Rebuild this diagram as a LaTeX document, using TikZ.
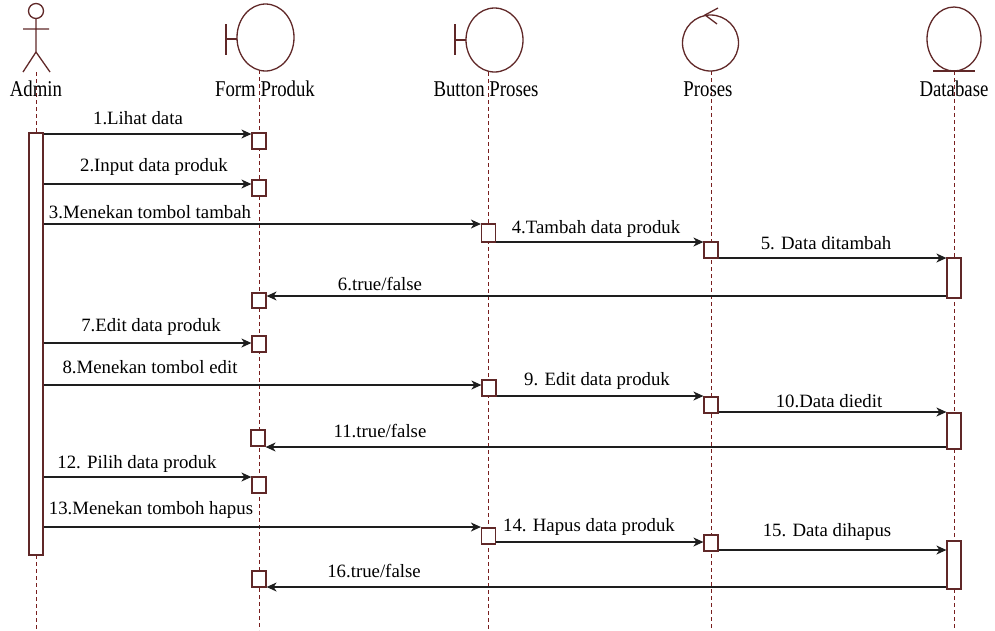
\documentclass[tikz,border=0pt]{standalone}
\usepackage{fontspec}
\setmainfont{Liberation Serif}
\usetikzlibrary{arrows.meta}
\definecolor{umlred}{RGB}{96,40,40}
\definecolor{lifered}{RGB}{120,30,30}
\definecolor{msgcol}{RGB}{30,30,30}
\tikzset{
  icon/.style={draw=umlred, line width=1.3pt},
  lifeline/.style={draw=lifered, line width=1pt, dash pattern=on 4pt off 3pt},
  actbox/.style={draw=umlred, fill=white, line width=1.2pt, rectangle, inner sep=0pt, minimum width=14pt},
  msg/.style={draw=msgcol, line width=1.3pt, -{Stealth[length=10pt,width=9pt,inset=3pt]}},
  lbl/.style={anchor=base, inner sep=0pt, font=\fontsize{18.8}{22}\selectfont},
  hdr/.style={anchor=base, inner sep=0pt, font=\fontsize{18.8}{22}\selectfont, yscale=1.2}
}
\begin{document}
\begin{tikzpicture}[x=1pt,y=-1pt]
\useasboundingbox (0,0) rectangle (995,630);
% lifelines
\coordinate (adminTop) at (36,72);
\coordinate (adminBot) at (36,630);
\coordinate (formTop) at (259,70);
\coordinate (formBot) at (259,630);
\coordinate (btnTop) at (488,72);
\coordinate (btnBot) at (488,630);
\coordinate (prsTop) at (711,71);
\coordinate (prsBot) at (711,630);
\coordinate (dbTop) at (954,71);
\coordinate (dbBot) at (954,630);
\draw[lifeline] (adminTop) -- (adminBot);
\draw[lifeline] (formTop) -- (formBot);
\draw[lifeline] (btnTop) -- (btnBot);
\draw[lifeline] (prsTop) -- (prsBot);
\draw[lifeline] (dbTop) -- (dbBot);
% actor
\draw[icon] (36,11) circle (7.5);
\draw[icon] (36,18.5) -- (36,52) (23,29) -- (49,29) (23,72) -- (36,52) -- (50,72);
% boundary Form
\draw[icon] (226,24) -- (226,55) (226,39) -- (237,39);
\draw[icon] (265.5,37.5) ellipse [x radius=28.5, y radius=33.5];
% boundary Button
\draw[icon] (455,24) -- (455,55) (455,40) -- (466,40);
\draw[icon] (494.5,40) ellipse [x radius=28.5, y radius=32];
% control
\draw[icon] (710.5,43) circle (28);
\draw[icon] (718,8) -- (705,15) -- (717,24);
% entity
\draw[icon] (954,39) ellipse [x radius=27, y radius=32];
\draw[icon] (933,71) -- (975,71);
% headers
\node[hdr] (hAdmin) at (36,96) {Admin};
\node[hdr] (hForm) at (265,96) {Form Produk};
\node[hdr] (hBtn) at (486,96) {Button Proses};
\node[hdr] (hPrs) at (708,96) {Proses};
\node[hdr] (hDb) at (954,96) {Database};
% activation boxes
\node[actbox, minimum height=422pt] (adminbar) at (36,344) {};
\node[actbox, minimum height=16pt] (b1) at (259,141) {};
\node[actbox, minimum height=16pt] (b2) at (259,188) {};
\node[actbox, minimum height=18pt] (b3) at (488.5,233) {};
\node[actbox, minimum height=16pt] (b4) at (711,250) {};
\node[actbox, minimum height=40pt] (b5) at (954,278) {};
\node[actbox, minimum height=15pt] (b6) at (259,300.5) {};
\node[actbox, minimum height=16pt] (b7) at (259,344) {};
\node[actbox, minimum height=16pt] (b8) at (489,388) {};
\node[actbox, minimum height=16pt] (b9) at (711,405) {};
\node[actbox, minimum height=36pt] (b10) at (954,431) {};
\node[actbox, minimum height=16pt] (b11) at (258,438) {};
\node[actbox, minimum height=16pt] (b12) at (259,485) {};
\node[actbox, minimum height=16pt] (b13) at (488.5,536) {};
\node[actbox, minimum height=16pt] (b14) at (711,543) {};
\node[actbox, minimum height=48pt] (b15) at (954,565) {};
\node[actbox, minimum height=16pt] (b16) at (259,579) {};
% messages
\draw[msg] (adminbar.east |- 0,134) -- (b1.west |- 0,134);
\draw[msg] (adminbar.east |- 0,184) -- (b2.west |- 0,184);
\draw[msg] (adminbar.east |- 0,224) -- (b3.west |- 0,224);
\draw[msg] (b3.east |- 0,242) -- (b4.west |- 0,242);
\draw[msg] (b4.east |- 0,258) -- (b5.west |- 0,258);
\draw[msg] (b5.west |- 0,296) -- (b6.east |- 0,296);
\draw[msg] (adminbar.east |- 0,343) -- (b7.west |- 0,343);
\draw[msg] (adminbar.east |- 0,385) -- (b8.west |- 0,385);
\draw[msg] (b8.east |- 0,396) -- (b9.west |- 0,396);
\draw[msg] (b9.east |- 0,412) -- (b10.west |- 0,412);
\draw[msg] (b10.west |- 0,447) -- (b11.east |- 0,447);
\draw[msg] (adminbar.east |- 0,477) -- (b12.west |- 0,477);
\draw[msg] (adminbar.east |- 0,527) -- (b13.west |- 0,527);
\draw[msg] (b13.east |- 0,542) -- (b14.west |- 0,542);
\draw[msg] (b14.east |- 0,550) -- (b15.west |- 0,550);
\draw[msg] (b15.west |- 0,587) -- (b16.east |- 0,587);
% labels
\node[lbl] (l1) at (138,124) {1.Lihat data};
\node[lbl] (l2) at (154,171) {2.Input data produk};
\node[lbl] (l3) at (150,218) {3.Menekan tombol tambah};
\node[lbl] (l4) at (596,233) {4.Tambah data produk};
\node[lbl] (l5) at (826,249) {5. Data ditambah};
\node[lbl] (l6) at (380,290) {6.true/false};
\node[lbl] (l7) at (151,331) {7.Edit data produk};
\node[lbl] (l8) at (150,373) {8.Menekan tombol edit};
\node[lbl] (l9) at (597,385) {9. Edit data produk};
\node[lbl] (l10) at (829,407) {10.Data diedit};
\node[lbl] (l11) at (380,437) {11.true/false};
\node[lbl] (l12) at (137,468) {12. Pilih data produk};
\node[lbl] (l13) at (151,514) {13.Menekan tomboh hapus};
\node[lbl] (l14) at (589,531) {14. Hapus data produk};
\node[lbl] (l15) at (827,536) {15. Data dihapus};
\node[lbl] (l16) at (374,577) {16.true/false};
\end{tikzpicture}
\end{document}
